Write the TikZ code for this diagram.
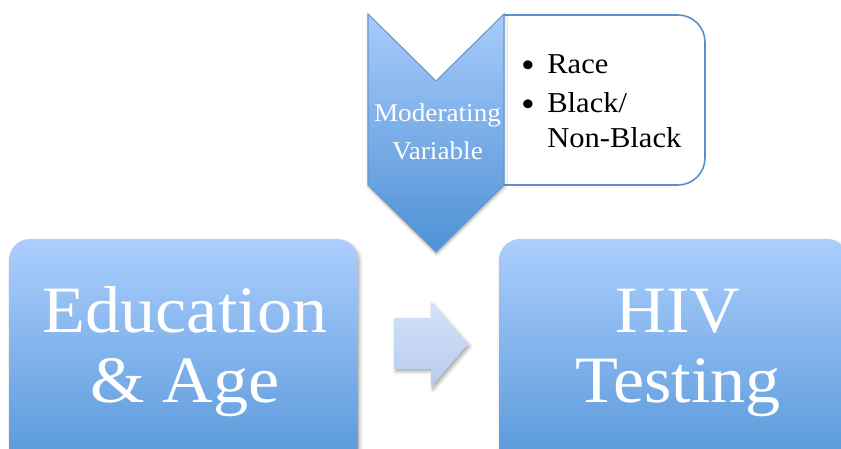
\documentclass[tikz,border=0pt]{standalone}
\usepackage{fontspec}
\setmainfont{Liberation Serif}[FakeStretch=1.06]
\usepackage{tikz}
\usetikzlibrary{shadows.blur}

\definecolor{boxtop}{RGB}{172,206,253}
\definecolor{boxbottom}{RGB}{86,151,217}
\definecolor{chevtop}{RGB}{168,203,251}
\definecolor{chevbottom}{RGB}{78,145,213}
\definecolor{chevedge}{RGB}{105,152,208}
\definecolor{noteedge}{RGB}{92,142,202}
\definecolor{arrowtop}{RGB}{211,226,249}
\definecolor{arrowbottom}{RGB}{183,203,238}

\tikzset{
	softshadow/.style={blur shadow={shadow xshift=1pt, shadow yshift=-1.5pt, shadow blur radius=2pt, shadow opacity=35}},
	bigbox/.style={rounded corners=0.42cm, top color=boxtop, bottom color=boxbottom, minimum width=6.98cm, minimum height=4.62cm, inner sep=0pt, softshadow},
	bigtext/.style={text=white, inner sep=0pt, anchor=base, font=\fontsize{37.7}{45}\selectfont},
	chevron/.style={top color=chevtop, bottom color=chevbottom, draw=chevedge, line width=0.6pt,
		blur shadow={shadow xshift=0.3pt, shadow yshift=-1.5pt, shadow blur radius=1.5pt, shadow opacity=30}},
	notebox/.style={fill=white, draw=noteedge, line width=0.9pt, rounded corners=0.54cm},
	chevtext/.style={text=white, inner sep=0pt, anchor=base, font=\fontsize{14.6}{18}\selectfont},
	notetext/.style={inner sep=0pt, anchor=base west, font=\fontsize{16.4}{20}\selectfont},
	bullet/.style={inner sep=0pt, anchor=base, font=\fontsize{21}{24}\selectfont},
	flowarrow/.style={top color=arrowtop, bottom color=arrowbottom, softshadow}
}

\begin{document}
\begin{tikzpicture}[x=0.02cm, y=-0.02cm]
	\useasboundingbox (0,0) rectangle (841,449);
	\clip (0,0) rectangle (841,449);
	%big boxes
	\node[bigbox] (educ) at (183.5,354.5) {};
	\node[bigbox] (hiv) at (673.5,354.5) {};
	\node[bigtext] (educa) at (185,332) {Education};
	\node[bigtext] (educb) at (185,402) {\& Age};
	\node[bigtext] (hiva) at (678,332) {HIV};
	\node[bigtext] (hivb) at (678,402) {Testing};
	%arrow between the boxes
	\path[flowarrow] (394,318) -- (431,318) -- (431,302) -- (468,344) -- (431,387) -- (431,369) -- (394,369) -- cycle;
	%note box behind the chevron
	\filldraw[notebox] (504,15) -- (705,15) -- (705,185) -- (504,185);
	\node[bullet] (bula) at (528,78) {\textbullet};
	\node[notetext] (race) at (547,74) {Race};
	\node[bullet] (bulb) at (528,117) {\textbullet};
	\node[notetext] (black) at (547,113) {Black/};
	\node[notetext] (nonblack) at (547,148) {Non-Black};
	%chevron
	\path[chevron] (368,14) -- (436,81) -- (504,14) -- (504,185) -- (436,252) -- (368,185) -- cycle;
	\node[chevtext] (moda) at (437.5,122) {Moderating};
	\node[chevtext] (modb) at (437.5,160) {Variable};
\end{tikzpicture}
\end{document}
